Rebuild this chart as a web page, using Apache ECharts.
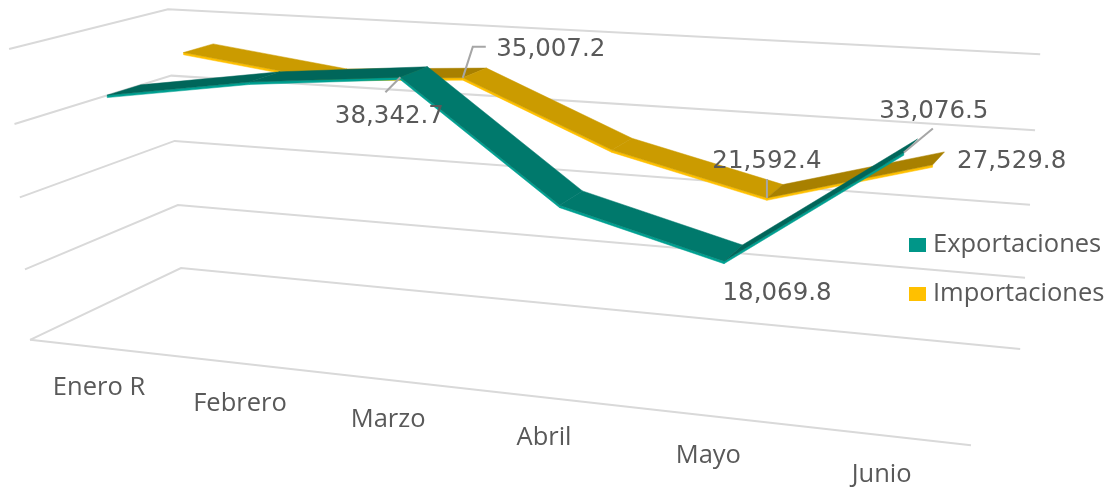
<!DOCTYPE html>
<html>
<head>
<meta charset="utf-8">
<style>
  html, body { margin: 0; padding: 0; background: #fff; }
  #chart { width: 1112px; height: 487px; }
</style>
<script src="https://cdn.jsdelivr.net/npm/echarts@6/dist/echarts.min.js"></script>
</head>
<body>
<div id="chart"></div>
<script>
const categories = ['Enero R', 'Febrero', 'Marzo', 'Abril', 'Mayo', 'Junio'];
const exportaciones = [33500, 36500, 38342.7, 23440, 18069.8, 33076.5];
const importaciones = [36200, 33700, 35007.2, 26500, 21592.4, 27529.8];
const valueTicks = [0, 10000, 20000, 30000, 40000];
const exportLabels = [2, 4, 5];
const importLabels = [2, 4, 5];

// camera of the 3d box: back-left-bottom corner, vanishing points, perspective weights
const ORIGIN = [181, 268];
const VAN_U = [-5572, -288];
const VAN_V = [540, 7425];
const VAN_W = [1345, -286];
const WEIGHT = [-0.1273, -0.0349, -0.1148];

// u along the months, v up the value axis, w from back wall (0) to front (1)
function project(u, v, w) {
  const a = WEIGHT[0] * u, b = WEIGHT[1] * v, c = WEIGHT[2] * w;
  const d = 1 + a + b + c;
  return [
    (ORIGIN[0] + a * VAN_U[0] + b * VAN_V[0] + c * VAN_W[0]) / d,
    (ORIGIN[1] + a * VAN_U[1] + b * VAN_V[1] + c * VAN_W[1]) / d,
  ];
}

// goes from the axes' scale to the unit box
function toBox(params, api, cat, val) {
  const pt = api.coord([cat, val]);
  const r = params.coordSys;
  return [(pt[0] - r.x) / r.width, 1 - (pt[1] - r.y) / r.height];
}

const RIBBON_HALF = 0.105;
const RIBBON_EDGE = 0.008;

function ribbon(values, depth, colors) {
  return function (params, api) {
    const i = params.dataIndex;
    if (i === values.length - 1) return { type: 'group', children: [] };
    const a = toBox(params, api, i, values[i]);
    const b = toBox(params, api, i + 1, values[i + 1]);
    const back = depth - RIBBON_HALF, front = depth + RIBBON_HALF;
    const top = values[i + 1] > values[i] ? colors.rise : colors.fall;
    const face = [
      project(a[0], a[1], front), project(b[0], b[1], front),
      project(b[0], b[1] - RIBBON_EDGE, front), project(a[0], a[1] - RIBBON_EDGE, front),
    ];
    const surface = [
      project(a[0], a[1], back), project(b[0], b[1], back),
      project(b[0], b[1], front), project(a[0], a[1], front),
    ];
    return {
      type: 'group',
      children: [
        { type: 'polygon', shape: { points: face }, style: { fill: colors.edge, stroke: colors.edge, lineWidth: 0.5 } },
        { type: 'polygon', shape: { points: surface }, style: { fill: top, stroke: top, lineWidth: 0.5 } },
      ],
    };
  };
}

const gridSeries = {
  type: 'custom',
  coordinateSystem: 'cartesian2d',
  silent: true,
  z: 1,
  data: valueTicks.map((t) => [0, t]),
  renderItem(params, api) {
    const v = toBox(params, api, 0, valueTicks[params.dataIndex])[1];
    const children = [{
      type: 'polyline',
      shape: { points: [project(0, v, 1), project(0, v, 0), project(1, v, 0)] },
      style: { stroke: '#d9d9d9', fill: null, lineWidth: 2 },
    }];
    if (params.dataIndex === 0) {
      children.push({
        type: 'polyline',
        shape: { points: [project(0, 0, 1), project(1, 0, 1)] },
        style: { stroke: '#d9d9d9', fill: null, lineWidth: 2 },
      });
    }
    return { type: 'group', children };
  },
};

const catSeries = {
  type: 'custom',
  coordinateSystem: 'cartesian2d',
  silent: true,
  z: 1,
  data: categories.map((c, i) => [i, 0]),
  renderItem(params, api) {
    const i = params.dataIndex;
    const u = toBox(params, api, i, 0)[0];
    const p = project(u, 0, 1);
    return {
      type: 'text',
      x: p[0] + 1,
      y: p[1] + 40,
      style: {
        text: categories[i],
        fill: '#595959',
        font: '25.5px "Open Sans"',
        align: 'center',
        verticalAlign: 'middle',
      },
    };
  },
};

function fmt(v) {
  return v.toLocaleString('en-US', { minimumFractionDigits: 1, maximumFractionDigits: 1 });
}

// label offset from the ribbon's front corner, and the leader line bends
const labelStyle = {
  exp: {
    2: { dx: -11, dy: 39, line: [[0, 0], [-15, 15]] },
    4: { dx: 53, dy: 32, line: null },
    5: { dx: 30, dy: -41, line: [[0, 0], [29, -24]] },
  },
  imp: {
    2: { dx: 88, dy: -28, line: [[0, 0], [10, -31], [23, -31]] },
    4: { dx: 0, dy: -36, line: [[0, 0], [0, -19]] },
    5: { dx: 79, dy: -3, line: null },
  },
};

function labelSeries(values, shown, depth, offs) {
  return {
    type: 'custom',
    coordinateSystem: 'cartesian2d',
    silent: true,
    z: 5,
    data: shown.map((i) => [i, values[i]]),
    renderItem(params, api) {
      const i = shown[params.dataIndex];
      const b = toBox(params, api, i, values[i]);
      const p = project(b[0], b[1], depth + RIBBON_HALF);
      const o = offs[i];
      const children = [{
        type: 'text',
        x: p[0] + o.dx,
        y: p[1] + o.dy,
        style: {
          text: fmt(values[i]),
          fill: '#595959',
          font: '24.5px "DejaVu Sans"',
          align: 'center',
          verticalAlign: 'middle',
        },
      }];
      if (o.line) {
        children.unshift({
          type: 'polyline',
          shape: { points: o.line.map((d) => [p[0] + d[0], p[1] + d[1]]) },
          style: { stroke: '#a6a6a6', fill: null, lineWidth: 2 },
        });
      }
      return { type: 'group', children };
    },
  };
}

const chart = echarts.init(document.getElementById('chart'));
chart.setOption({
  animation: false,
  backgroundColor: '#fff',
  grid: { left: 100, right: 100, top: 50, bottom: 50 },
  xAxis: { type: 'category', data: categories, show: false },
  yAxis: { type: 'value', min: 0, max: 40000, interval: 10000, show: false },
  legend: {
    orient: 'vertical',
    left: 904,
    top: 225,
    itemWidth: 17,
    itemHeight: 14,
    itemGap: 19,
    icon: 'rect',
    data: ['Exportaciones', 'Importaciones'],
    textStyle: { color: '#595959', fontFamily: 'Open Sans', fontSize: 25.5, lineHeight: 30, padding: [0, 0, 0, 2] },
  },
  series: [
    gridSeries,
    catSeries,
    {
      name: 'Importaciones',
      type: 'custom',
      coordinateSystem: 'cartesian2d',
      z: 2,
      itemStyle: { color: '#ffc000' },
      data: importaciones.map((v, i) => [i, v]),
      renderItem: ribbon(importaciones, 0.25, { fall: '#cb9b00', rise: '#a88000', edge: '#ffc000' }),
    },
    {
      name: 'Exportaciones',
      type: 'custom',
      coordinateSystem: 'cartesian2d',
      z: 3,
      itemStyle: { color: '#009688' },
      data: exportaciones.map((v, i) => [i, v]),
      renderItem: ribbon(exportaciones, 0.75, { fall: '#00796c', rise: '#00665a', edge: '#00a091' }),
    },
    labelSeries(exportaciones, exportLabels, 0.75, labelStyle.exp),
    labelSeries(importaciones, importLabels, 0.25, labelStyle.imp),
  ],
});
</script>
</body>
</html>
